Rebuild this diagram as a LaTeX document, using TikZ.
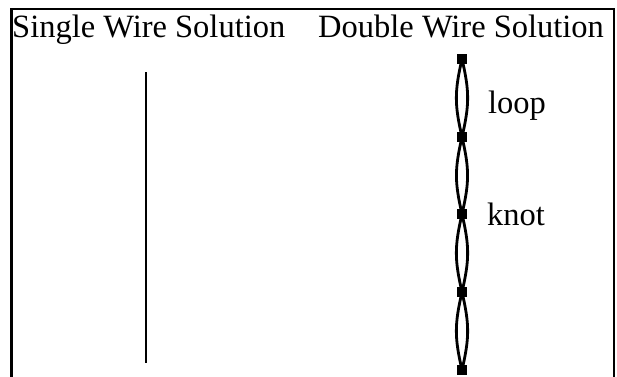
\documentclass[tikz,border=0pt]{standalone}
\usepackage{fontspec}
\setmainfont{Liberation Serif}
\begin{document}
\begin{tikzpicture}[x=1pt,y=-1pt,
  knotbox/.style={draw=none,fill=black,minimum size=10pt,inner sep=0pt,outer sep=0pt},
  wire/.style={line width=2.8pt},
  lbl/.style={font=\fontsize{32.5}{36}\selectfont,inner sep=0pt,anchor=base west}]
\useasboundingbox (0,0) rectangle (617,376);
\clip (0,0) rectangle (617,376);
\draw[line width=2.4pt] (11.5,9) rectangle (614,390);
\node[lbl] (t1) at (12,37) {Single Wire Solution};
\node[lbl] (t2) at (318,37) {Double Wire Solution};
\coordinate (a) at (146,72);
\coordinate (b) at (146,363);
\draw[wire] (a) -- (b);
\node[knotbox] (s1) at (462,59) {};
\node[knotbox] (s2) at (462,137) {};
\node[knotbox] (s3) at (462,214) {};
\node[knotbox] (s4) at (462,292) {};
\node[knotbox] (s5) at (462,370) {};
\foreach \p/\q in {s1/s2,s2/s3,s3/s4,s4/s5}{
  \draw[wire] (\p.center) to[out=-77,in=77,looseness=1.1] (\q.center);
  \draw[wire] (\p.center) to[out=-103,in=103,looseness=1.1] (\q.center);
}
\node[lbl] (loop) at (488,113) {loop};
\node[lbl] (knot) at (487,225) {knot};
\end{tikzpicture}
\end{document}
